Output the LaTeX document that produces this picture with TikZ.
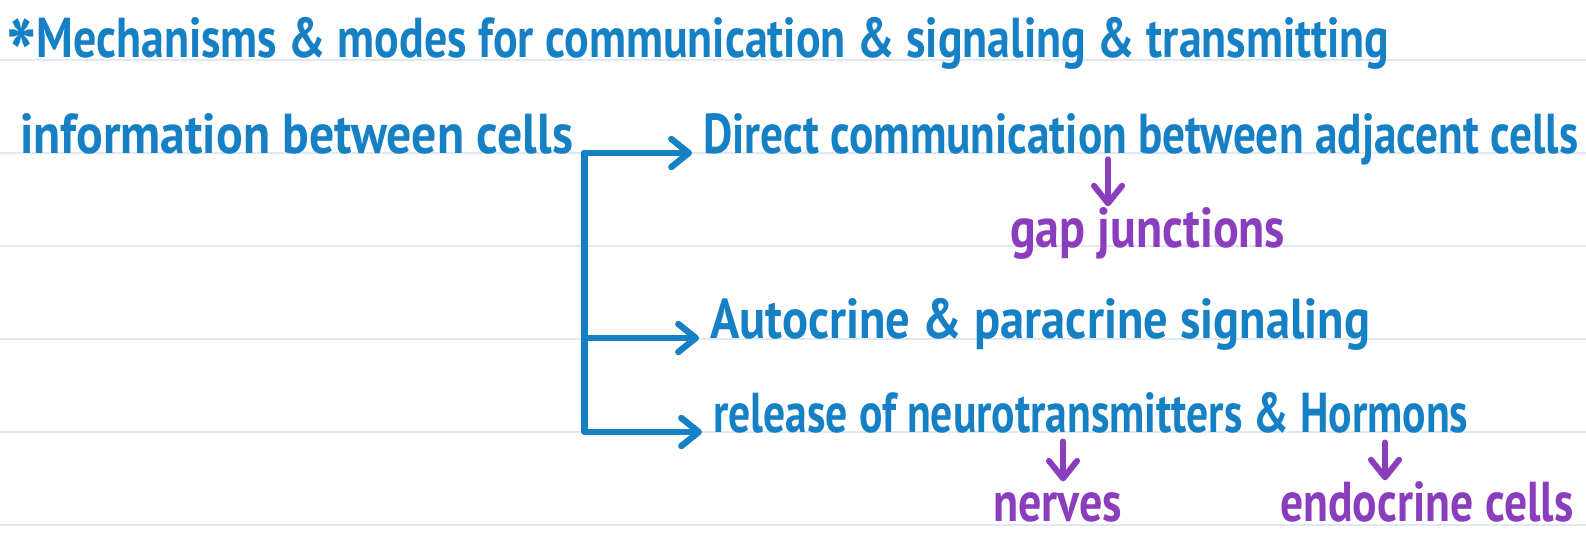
\documentclass[tikz,border=0pt]{standalone}
\usepackage{fontspec}
\usepackage{graphicx}
\setmainfont{PT Sans}[FakeStretch=0.88]
\usetikzlibrary{arrows.meta}

\definecolor{bluepen}{RGB}{22,128,197}
\definecolor{purplepen}{RGB}{138,62,190}
\definecolor{ruled}{RGB}{226,232,239}

% stretch a line of writing to a given width, height untouched
\newcommand{\inkto}[2]{\resizebox{#1}{\height}{#2}}

\begin{document}
\begin{tikzpicture}[
  rule/.style={draw=ruled,line width=0.8pt},
  say/.style={anchor=base west,inner xsep=3pt,inner ysep=0pt,text=bluepen,
    font=\bfseries\fontsize{16}{19}\selectfont},
  aside/.style={say,text=purplepen},
  pen/.style={draw=bluepen,line width=1.8pt,line cap=round,line join=round,
    -{Straight Barb[length=5pt,width=8pt,round]}},
  hint/.style={pen,draw=purplepen,line width=1.7pt}]
  \useasboundingbox (0,0) rectangle (15.86,5.33);
  % notebook lines
  \foreach \y in {4.73,3.80,2.87,1.94,1.01,0.08}
    \draw[rule] (0,\y) -- (15.86,\y);
  % blue notes
  \node[say] (head) at (-0.05,4.76) {\inkto{13.83cm}{\raisebox{-9.5pt}{\fontsize{28}{28}\selectfont*}Mechanisms \& modes for communication \& signaling \& transmitting}};
  \node[say] (info) at (0.09,3.80) {\inkto{5.53cm}{information between cells}};
  \node[say] (direct) at (6.92,3.80) {\inkto{8.75cm}{Direct communication between adjacent cells}};
  \node[say] (auto) at (6.99,1.95) {\inkto{6.60cm}{Autocrine \& paracrine signaling}};
  \node[say] (release) at (7.02,1.01) {\inkto{7.55cm}{release of neurotransmitters \& Hormons}};
  % purple notes
  \node[aside] (gap) at (9.99,2.86) {\inkto{2.75cm}{gap junctions}};
  \node[aside] (nerves) at (9.82,0.12) {\inkto{1.29cm}{nerves}};
  \node[aside] (endo) at (12.69,0.12) {\inkto{2.93cm}{endocrine cells}};
  % branches
  \draw[pen] (info.base east) -- (direct.base west);
  \draw[pen] (info.base east) |- (auto.base west);
  \draw[pen] (info.base east) |- (release.base west);
  % little down arrows
  \coordinate (gx) at (11.08,0);
  \coordinate (nx) at (10.63,0);
  \coordinate (ex) at (13.85,0);
  \draw[hint,shorten <=-0.06cm] (direct.south -| gx) -- (gap.north -| gx);
  \draw[hint,shorten <=0.08cm,shorten >=0.10cm] (release.south -| nx) -- (nerves.north -| nx);
  \draw[hint,shorten <=0.09cm,shorten >=0.0cm] (release.south -| ex) -- (endo.north -| ex);
\end{tikzpicture}
\end{document}
